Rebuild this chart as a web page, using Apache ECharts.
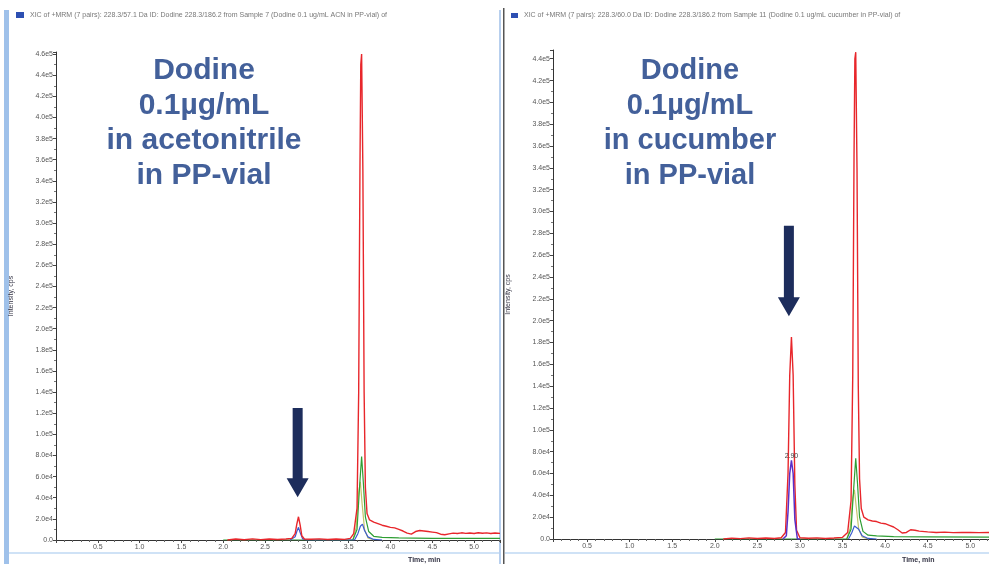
<!DOCTYPE html>
<html>
<head>
<meta charset="utf-8">
<script src="https://cdn.jsdelivr.net/npm/echarts@6/dist/echarts.min.js"></script>
<style>
html,body{margin:0;padding:0;background:#fff;}
#c{width:989px;height:564px;}
</style>
</head>
<body>
<div id="c"></div>
<script>
// ---- data (time in min, intensity in cps) ----
const leftRed = [[2.05,0],[2.15,900],[2.25,300],[2.35,1100],[2.45,400],[2.55,1000],[2.65,500],[2.75,900],[2.82,1500],[2.86,6000],[2.88,15000],[2.9,22000],[2.92,14000],[2.94,4000],[2.97,900],[3.05,700],[3.15,1100],[3.25,500],[3.35,900],[3.45,600],[3.52,1500],[3.56,6000],[3.6,30000],[3.62,140000],[3.635,350000],[3.645,450000],[3.655,460000],[3.67,350000],[3.685,140000],[3.7,50000],[3.72,25000],[3.75,19000],[3.8,17000],[3.85,15500],[3.9,14000],[3.95,13000],[4.0,12000],[4.05,11500],[4.1,10000],[4.15,8500],[4.2,6500],[4.25,5500],[4.3,8000],[4.35,9000],[4.4,8500],[4.45,8000],[4.5,7500],[4.55,7000],[4.6,5500],[4.65,5000],[4.7,5800],[4.75,6500],[4.8,6200],[4.85,6800],[4.9,6300],[4.95,6600],[5.0,6200],[5.05,6900],[5.1,6400],[5.15,6700],[5.2,6100],[5.25,6600],[5.31,6300]];
const leftBlue = [[2.8,0],[2.86,3000],[2.88,8000],[2.9,12000],[2.92,7000],[2.95,1000],[3.0,0],[3.57,0],[3.61,6000],[3.64,13000],[3.665,15000],[3.69,9000],[3.73,3000],[3.8,500],[3.9,0]];
const leftGreen = [[2.0,0],[3.55,0],[3.6,10000],[3.63,50000],[3.655,79000],[3.675,55000],[3.7,22000],[3.74,8000],[3.8,3500],[3.9,2500],[4.1,2000],[4.5,1500],[5.31,1500]];
const leftOlive = [[3.55,0],[3.59,12000],[3.62,45000],[3.64,55000],[3.66,35000],[3.69,10000],[3.73,2000],[3.8,0]];

const rightRed = [[2.1,0],[2.2,800],[2.3,300],[2.4,1000],[2.5,500],[2.6,900],[2.7,400],[2.78,1200],[2.83,6000],[2.86,60000],[2.88,150000],[2.9,185000],[2.92,150000],[2.94,50000],[2.96,8000],[3.0,1200],[3.1,700],[3.2,1000],[3.3,500],[3.4,900],[3.5,1500],[3.56,6000],[3.6,35000],[3.62,150000],[3.635,350000],[3.645,440000],[3.655,446000],[3.67,340000],[3.685,140000],[3.7,55000],[3.72,28000],[3.75,20000],[3.8,17500],[3.85,16500],[3.9,16000],[3.95,14500],[4.0,14000],[4.05,12500],[4.1,11000],[4.15,8500],[4.2,5500],[4.25,6000],[4.3,8500],[4.35,8000],[4.4,7200],[4.5,6500],[4.6,6000],[4.7,6300],[4.8,5800],[4.9,6100],[5.0,6000],[5.1,5800],[5.22,6000]];
const rightPurple = [[2.8,0],[2.84,3000],[2.86,25000],[2.88,60000],[2.9,72000],[2.92,60000],[2.94,18000],[2.97,0],[3.0,0]];
const rightBlue = [[3.57,0],[3.61,6000],[3.64,12000],[3.66,13000],[3.69,9000],[3.73,3000],[3.8,500],[3.9,0]];
const rightGreen = [[2.0,0],[3.55,0],[3.6,9000],[3.63,45000],[3.655,74000],[3.675,52000],[3.7,20000],[3.74,7000],[3.8,3500],[3.9,2800],[4.1,2200],[4.5,2000],[5.22,1800]];
const rightOlive = [[3.55,0],[3.59,10000],[3.62,38000],[3.64,45000],[3.66,30000],[3.69,9000],[3.73,2000],[3.8,0]];

const peakLabelRight = [2.9, 72000, '2.90'];
// arrows: [time, top intensity, tip intensity]
const arrowLeft = [2.89, 125000, 40500];
const arrowRight = [2.87, 287000, 204000];

const yRange = {left: [0, 462000], right: [0, 448000]};
const xRange = {left: [0, 5.31], right: [0.1, 5.22]};

const textLeft = 'Dodine\n0.1µg/mL\nin acetonitrile\nin PP-vial';
const textRight = 'Dodine\n0.1µg/mL\nin cucumber\nin PP-vial';
const titleLeft = 'XIC of +MRM (7 pairs): 228.3/57.1 Da ID: Dodine 228.3/186.2 from Sample 7 (Dodine 0.1 ug/mL ACN in PP-vial) of';
const titleRight = 'XIC of +MRM (7 pairs): 228.3/60.0 Da ID: Dodine 228.3/186.2 from Sample 11 (Dodine 0.1 ug/mL cucumber in PP-vial) of';

// ---- chart ----
const chart = echarts.init(document.getElementById('c'), null, {renderer: 'canvas'});
const FONT = '"Liberation Sans", Arial, sans-serif';
function yFmt(v) {
  if (v === 0) return '0.0';
  if (Math.abs(v / 20000 - Math.round(v / 20000)) > 1e-6) return '';
  const e = Math.floor(Math.log10(v) + 1e-9);
  return (v / Math.pow(10, e)).toFixed(1) + 'e' + e;
}
function xFmt(v) {
  if (Math.abs(v * 2 - Math.round(v * 2)) > 1e-6 || v < 0.25) return '';
  return v.toFixed(1);
}
function xAx(i, r) {
  return {
    type: 'value', gridIndex: i, min: r[0], max: r[1], splitNumber: 10,
    axisLine: {lineStyle: {color: '#333', width: 1}},
    axisTick: {length: 3, lineStyle: {color: '#444'}},
    minorTick: {show: true, splitNumber: 5, length: 2, lineStyle: {color: '#666'}},
    splitLine: {show: false},
    axisLabel: {formatter: xFmt, fontSize: 7, color: '#555', margin: 4, fontFamily: FONT, showMinLabel: true, showMaxLabel: false}
  };
}
function yAx(i, r) {
  return {
    type: 'value', gridIndex: i, min: r[0], max: r[1], interval: 20000,
    name: 'Intensity, cps', nameLocation: 'middle', nameGap: 41, nameRotate: 90,
    nameTextStyle: {fontSize: 7, color: '#334', fontFamily: FONT},
    axisLine: {show: true, lineStyle: {color: '#333', width: 1}},
    axisTick: {show: true, length: 3, lineStyle: {color: '#444'}},
    minorTick: {show: true, splitNumber: 2, length: 2, lineStyle: {color: '#777'}},
    splitLine: {show: false},
    axisLabel: {formatter: yFmt, fontSize: 7, color: '#555', margin: 3, fontFamily: FONT}
  };
}
function ln(name, data, color, xi, extra, w) {
  return Object.assign({
    type: 'line', name: name, data: data, xAxisIndex: xi, yAxisIndex: xi,
    symbol: 'none', showSymbol: false, clip: true, animation: false,
    lineStyle: {color: color, width: w || 1.2}, itemStyle: {color: color}, z: 3
  }, extra || {});
}

chart.setOption({
  animation: false,
  backgroundColor: '#ffffff',
  grid: [
    {left: 56, top: 52, width: 444, height: 488},
    {left: 553, top: 50, width: 436, height: 489}
  ],
  xAxis: [xAx(0, xRange.left), xAx(1, xRange.right)],
  yAxis: [yAx(0, yRange.left), yAx(1, yRange.right)],
  series: [
    ln('olive L', leftOlive, '#c2c46a', 0),
    ln('green L', leftGreen, '#2e9e33', 0),
    ln('blue L', leftBlue, '#3a5bd0', 0),
    ln('red L', leftRed, '#e8262b', 0, null, 1.4),
    ln('olive R', rightOlive, '#c2c46a', 1),
    ln('green R', rightGreen, '#2e9e33', 1),
    ln('blue R', rightBlue, '#3a5bd0', 1),
    ln('red R', rightRed, '#e8262b', 1, null, 1.4),
    ln('purple R', rightPurple, '#5a2fc8', 1, {
      markPoint: {
        symbol: 'circle', symbolSize: 0,
        label: {show: true, position: 'top', distance: 1, formatter: peakLabelRight[2], fontSize: 7, color: '#444', fontFamily: FONT},
        data: [{coord: [peakLabelRight[0], peakLabelRight[1]]}]
      }
    }, 1.5)
  ]
});

function arrowShape(gi, a) {
  const top = chart.convertToPixel({gridIndex: gi}, [a[0], a[1]]);
  const tip = chart.convertToPixel({gridIndex: gi}, [a[0], a[2]]);
  const x = top[0], sw = 5, hw = 11, hl = 19;
  const base = tip[1] - hl;
  return [[x - sw, top[1]], [x + sw, top[1]], [x + sw, base], [x + hw, base], [x, tip[1]], [x - hw, base], [x - sw, base]];
}

chart.setOption({
  graphic: [
    // window frames
    {type: 'rect', shape: {x: 4, y: 10, width: 5, height: 554}, style: {fill: '#9fc1ea'}, silent: true},
    {type: 'rect', shape: {x: 499, y: 10, width: 2, height: 554}, style: {fill: '#b7cfee'}, silent: true},
    {type: 'rect', shape: {x: 503, y: 8, width: 1.5, height: 556}, style: {fill: '#555'}, silent: true},
    {type: 'rect', shape: {x: 9, y: 552, width: 490, height: 2}, style: {fill: '#cfe2f6'}, silent: true},
    {type: 'rect', shape: {x: 505, y: 552, width: 484, height: 2}, style: {fill: '#cfe2f6'}, silent: true},
    // title bars
    {type: 'rect', shape: {x: 16, y: 12, width: 8, height: 6}, style: {fill: '#2d4fb2'}, silent: true},
    {type: 'text', x: 30, y: 15, style: {text: titleLeft, font: '7px ' + FONT, fill: '#777', textVerticalAlign: 'middle'}, silent: true},
    {type: 'rect', shape: {x: 511, y: 13, width: 7, height: 5}, style: {fill: '#2d4fb2'}, silent: true},
    {type: 'text', x: 524, y: 15, style: {text: titleRight, font: '7px ' + FONT, fill: '#777', textVerticalAlign: 'middle'}, silent: true},
    // axis titles
    {type: 'text', x: 408, y: 560, style: {text: 'Time, min', font: 'bold 7px ' + FONT, fill: '#334', textVerticalAlign: 'middle'}, silent: true},
    {type: 'text', x: 902, y: 560, style: {text: 'Time, min', font: 'bold 7px ' + FONT, fill: '#334', textVerticalAlign: 'middle'}, silent: true},
    // annotations
    {type: 'text', x: 204, y: 53, style: {text: textLeft, font: 'bold 30px ' + FONT, fill: '#43609a', textAlign: 'center', textVerticalAlign: 'top', lineHeight: 35}, silent: true, z: 10},
    {type: 'text', x: 690, y: 53, style: {text: textRight, font: 'bold 29px ' + FONT, fill: '#43609a', textAlign: 'center', textVerticalAlign: 'top', lineHeight: 35}, silent: true, z: 10},
    {type: 'polygon', shape: {points: arrowShape(0, arrowLeft)}, style: {fill: '#1d2d5c'}, silent: true, z: 10},
    {type: 'polygon', shape: {points: arrowShape(1, arrowRight)}, style: {fill: '#1d2d5c'}, silent: true, z: 10}
  ]
});
</script>
</body>
</html>
